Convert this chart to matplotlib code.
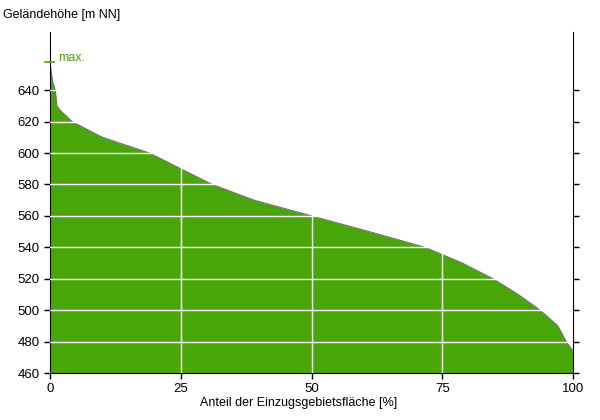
import matplotlib
matplotlib.use("Agg")
import matplotlib.pyplot as plt

plt.rcParams['font.family'] = ['Liberation Sans', 'DejaVu Sans']

# Hypsometrische Kurve: Flächenanteil [%] und Geländehöhe [m NN]
anteil = [0, 0.2, 0.5, 1.0, 1.3, 2.0, 4.2, 10, 19, 25, 31, 39, 50, 61, 71.7, 78.8, 84.7, 89.5, 93.7, 97.1, 98.7, 100]
hoehe = [658, 652, 645, 640, 630, 627, 620, 610, 600, 590, 580, 570, 560, 550, 540, 530, 520, 510, 500, 490, 480, 474]
max_hoehe = 658
y_ticks = [460, 480, 500, 520, 540, 560, 580, 600, 620, 640]
x_ticks = [0, 25, 50, 75, 100]

gruen = '#48a60a'

fig = plt.figure(figsize=(6, 4.2), dpi=100)
ax = fig.add_axes([50 / 600, 1 - 373 / 420, 523 / 600, 341 / 420])

ax.fill_between(anteil, hoehe, 460, color=gruen, linewidth=0, zorder=1)
ax.plot(anteil, hoehe, color='#707070', linewidth=0.8, zorder=2)

# Gitterlinien (nur auf der Fläche sichtbar)
for y in y_ticks[1:]:
    ax.axhline(y, color='white', linewidth=1, zorder=3)
for x in x_ticks[1:-1]:
    ax.axvline(x, color='white', linewidth=1, zorder=3)

# max. Markierung
ax.plot([-1, 0.8], [max_hoehe, max_hoehe], color=gruen, linewidth=1.2, clip_on=False, zorder=4)
ax.text(1.5, max_hoehe + 2.5, 'max.', color=gruen, fontsize=9, va='center', ha='left')

ax.set_xlim(0, 100)
ax.set_ylim(460, 677)
ax.set_xticks(x_ticks)
ax.set_yticks(y_ticks)
ax.tick_params(axis='both', labelsize=9.5, direction='out', length=4, width=1)
ax.tick_params(axis='y', right=True, labelright=False)
ax.spines['top'].set_visible(False)

fig.text(299 / 600, 1 - 403 / 420, 'Anteil der Einzugsgebietsfläche [%]', fontsize=9, va='center', ha='center')
fig.text(3 / 600, 1 - 15 / 420, 'Geländehöhe [m NN]', fontsize=9, va='center', ha='left')

fig.savefig('out.png', dpi=100)
